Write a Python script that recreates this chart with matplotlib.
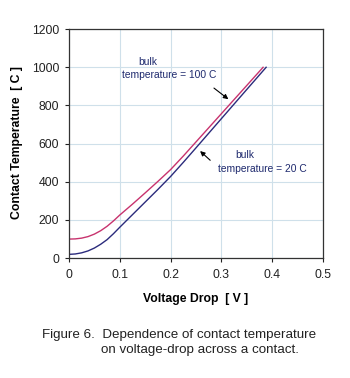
import matplotlib
matplotlib.use("Agg")
import matplotlib.pyplot as plt

plt.rcParams["font.family"] = ["Liberation Sans", "DejaVu Sans"]

# values
voltage = [0, 0.0125, 0.025, 0.0375, 0.05, 0.0625, 0.075, 0.0875, 0.1,
           0.125, 0.15, 0.175, 0.2, 0.225, 0.25, 0.3, 0.35]
temp_100 = [100, 101, 105, 113, 126, 144, 167, 195, 226,
            283, 342, 402, 464, 535, 609, 757, 905]
temp_20 = [20, 22, 28, 38, 53, 73, 97, 128, 162,
           228, 294, 360, 428, 502, 578, 731, 884]
end_100 = (0.382, 1000)
end_20 = (0.388, 1000)

red = "#c8336e"
navy = "#2b2b7c"
txt = "#1f2a6e"

fig = plt.figure(figsize=(3.5, 3.78), dpi=100)
ax = fig.add_axes([0.197, 0.317, 0.726, 0.606])

ax.plot(voltage + [end_100[0]], temp_100 + [end_100[1]], color=red, lw=1.0)
ax.plot(voltage + [end_20[0]], temp_20 + [end_20[1]], color=navy, lw=1.0)

ax.set_xlim(0, 0.5)
ax.set_ylim(0, 1200)
ax.set_xticks([0, 0.1, 0.2, 0.3, 0.4, 0.5])
ax.set_xticklabels(["0", "0.1", "0.2", "0.3", "0.4", "0.5"])
ax.set_yticks(range(0, 1201, 200))
ax.tick_params(labelsize=8.8, length=3, width=0.8, colors="#222222")
ax.tick_params(axis="x", pad=5)
ax.tick_params(axis="y", pad=4)
ax.grid(True, color="#cfe0ea", lw=0.8)
ax.set_axisbelow(True)
for s in ax.spines.values():
    s.set_color("#333333")
    s.set_linewidth(0.9)

ax.set_xlabel("Voltage Drop  [ V ]", fontsize=8.8, fontweight="bold")
ax.set_ylabel("Contact Temperature  [ C ]", fontsize=8.8, fontweight="bold")
ax.xaxis.set_label_coords(0.5, -0.15)
ax.yaxis.set_label_coords(-0.181, 0.507)

# annotations
ax.text(0.156, 1026, "bulk", fontsize=7.4, color=txt, ha="center", va="center")
ax.text(0.105, 958, "temperature = 100 C", fontsize=7.4, color=txt, ha="left", va="center")
ax.annotate("", xy=(0.318, 824), xytext=(0.281, 900),
            arrowprops=dict(arrowstyle="-|>", color="black", lw=0.8, mutation_scale=7))

ax.text(0.346, 539, "bulk", fontsize=7.4, color=txt, ha="center", va="center")
ax.text(0.293, 466, "temperature = 20 C", fontsize=7.4, color=txt, ha="left", va="center")
ax.annotate("", xy=(0.254, 571), xytext=(0.282, 503),
            arrowprops=dict(arrowstyle="-|>", color="black", lw=0.8, mutation_scale=7))

fig.text(0.12, 0.114, "Figure 6.  Dependence of contact temperature", fontsize=9.6,
         ha="left", va="center", color="#222222")
fig.text(0.289, 0.074, "on voltage-drop across a contact.", fontsize=9.6,
         ha="left", va="center", color="#222222")

fig.savefig("out.png", dpi=100, facecolor="white")
